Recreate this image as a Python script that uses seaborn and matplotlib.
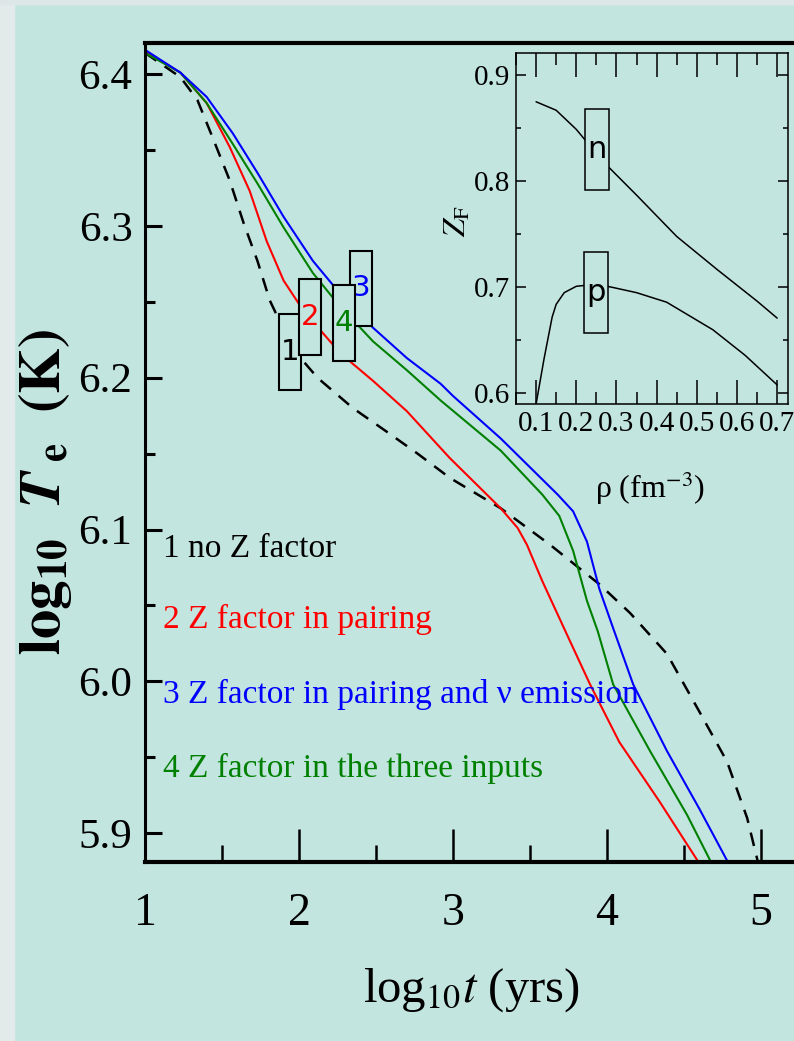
import numpy as np
import pandas as pd
import matplotlib
matplotlib.use("Agg")
import matplotlib.pyplot as plt
from matplotlib.patches import Rectangle
from matplotlib.ticker import MultipleLocator
import seaborn as sns

# ---------------- data ----------------
t_no_z = [1.0, 1.23, 1.34, 1.44, 1.55, 1.64, 1.73, 1.81, 1.88, 2.01, 2.12, 2.35, 2.59, 2.77,
          2.98, 3.31, 3.63, 3.95, 4.15, 4.39, 4.60, 4.78, 4.91, 4.98]
T_no_z = [6.414, 6.398, 6.383, 6.358, 6.330, 6.302, 6.277, 6.251, 6.236, 6.213, 6.200, 6.180,
          6.163, 6.150, 6.134, 6.114, 6.090, 6.064, 6.045, 6.018, 5.980, 5.947, 5.910, 5.881]

t_pair = [1.0, 1.23, 1.40, 1.55, 1.68, 1.79, 1.90, 2.03, 2.27, 2.48, 2.70, 2.98, 3.31, 3.42,
          3.48, 3.58, 3.73, 3.89, 4.08, 4.34, 4.60]
T_pair = [6.415, 6.401, 6.381, 6.352, 6.323, 6.290, 6.264, 6.244, 6.216, 6.198, 6.178, 6.147,
          6.114, 6.101, 6.090, 6.066, 6.033, 5.998, 5.960, 5.921, 5.880]

t_pair_nu = [1.0, 1.23, 1.40, 1.57, 1.73, 1.90, 2.09, 2.27, 2.48, 2.70, 2.92, 3.0, 3.31, 3.68,
             3.78, 3.87, 3.95, 4.04, 4.17, 4.39, 4.60, 4.79]
T_pair_nu = [6.416, 6.401, 6.385, 6.361, 6.335, 6.306, 6.277, 6.255, 6.233, 6.213, 6.196, 6.188,
             6.160, 6.123, 6.112, 6.092, 6.061, 6.035, 5.998, 5.954, 5.916, 5.880]

t_three = [1.0, 1.23, 1.40, 1.57, 1.73, 1.90, 2.09, 2.25, 2.48, 2.70, 2.92, 3.31, 3.58, 3.69,
           3.78, 3.87, 3.94, 4.04, 4.28, 4.52, 4.68]
T_three = [6.414, 6.401, 6.381, 6.354, 6.328, 6.299, 6.269, 6.249, 6.224, 6.205, 6.185, 6.152,
           6.123, 6.109, 6.086, 6.053, 6.033, 5.998, 5.954, 5.912, 5.880]

legend_labels = ["1 no Z factor", "2 Z factor in pairing",
                 "3 Z factor in pairing and \u03bd emission", "4 Z factor in the three inputs"]
curve_tags = ["1", "2", "3", "4"]
tag_t = [1.94, 2.07, 2.40, 2.29]
tag_T = [6.217, 6.240, 6.259, 6.236]

rho_n = [0.10, 0.15, 0.20, 0.222, 0.279, 0.35, 0.45, 0.55, 0.65, 0.70]
Z_n = [0.875, 0.867, 0.849, 0.839, 0.814, 0.787, 0.748, 0.717, 0.687, 0.671]
rho_p = [0.10, 0.12, 0.14, 0.15, 0.17, 0.20, 0.25, 0.29, 0.35, 0.425, 0.54, 0.62, 0.70]
Z_p = [0.590, 0.633, 0.672, 0.684, 0.695, 0.701, 0.703, 0.700, 0.695, 0.686, 0.660, 0.636, 0.608]
inset_tags = ["n", "p"]
inset_tag_rho = [0.251, 0.250]
inset_tag_Z = [0.830, 0.695]

x_ticks = [1, 2, 3, 4, 5]
y_ticks = [5.9, 6.0, 6.1, 6.2, 6.3, 6.4]
inset_x_ticks = [0.1, 0.2, 0.3, 0.4, 0.5, 0.6, 0.7]
inset_y_ticks = [0.6, 0.7, 0.8, 0.9]

# ---------------- style ----------------
BG = "#c3e5df"
RED, BLUE, GREEN = "#ff0000", "#0000ff", "#008000"
colors = ["black", RED, BLUE, GREEN]

sns.set_theme(style="ticks")
plt.rcParams["font.family"] = ["Liberation Serif", "DejaVu Serif"]
plt.rcParams["mathtext.fontset"] = "stix"
plt.rcParams["axes.unicode_minus"] = False

fig = plt.figure(figsize=(7.94, 10.41), dpi=100, facecolor=BG)
fig.patches.append(Rectangle((0, 0), 14 / 794, 1, transform=fig.transFigure,
                             color="#e2eaea", zorder=0))
fig.patches.append(Rectangle((0, 1 - 4 / 1041), 1, 4 / 1041, transform=fig.transFigure,
                             color="#dde7e7", zorder=0))

# ---------------- main axes ----------------
ax = fig.add_axes([145 / 794, 1 - 862 / 1041, 1 - 145 / 794, (862 - 43) / 1041])
ax.set_facecolor(BG)

df = pd.concat([
    pd.DataFrame({"t": t_no_z, "T": T_no_z, "case": "1"}),
    pd.DataFrame({"t": t_pair, "T": T_pair, "case": "2"}),
    pd.DataFrame({"t": t_pair_nu, "T": T_pair_nu, "case": "3"}),
    pd.DataFrame({"t": t_three, "T": T_three, "case": "4"}),
])
sns.lineplot(data=df[df.case == "1"], x="t", y="T", color="black", lw=1.8,
             linestyle=(0, (5.5, 4)), sort=False, estimator=None, ax=ax, legend=False)
for c, col in zip(["2", "4", "3"], [RED, GREEN, BLUE]):
    sns.lineplot(data=df[df.case == c], x="t", y="T", color=col, lw=1.5,
                 sort=False, estimator=None, ax=ax, legend=False)

ax.set_xlim(1, 1 + (794 - 145) / 154.0)
ax.set_ylim(5.881, 6.4205)
ax.set_xticks(x_ticks)
ax.set_yticks(y_ticks)
ax.set_xticklabels([str(v) for v in x_ticks])
ax.set_yticklabels([f"{v:.1f}" for v in y_ticks])
ax.xaxis.set_minor_locator(MultipleLocator(0.5))
ax.yaxis.set_minor_locator(MultipleLocator(0.05))
ax.tick_params(axis="x", which="major", direction="in", length=24, width=1.8,
               labelsize=33, pad=22, color="black", labelcolor="black")
ax.tick_params(axis="x", which="minor", direction="in", length=12, width=1.8, color="black")
ax.tick_params(axis="y", which="major", direction="in", length=12, width=2.2,
               labelsize=31, pad=9, color="black", labelcolor="black")
ax.tick_params(axis="y", which="minor", direction="in", length=7, width=2.2, color="black")
for side, lw in [("top", 3.0), ("left", 2.2), ("bottom", 3.0)]:
    ax.spines[side].set_linewidth(lw)
    ax.spines[side].set_color("black")
ax.spines["right"].set_visible(False)

ax.set_xlabel(r"log$_{10}$$\mathit{t}$ (yrs)", fontsize=35, color="black", va="center")
ax.xaxis.set_label_coords((471 - 145) / 649, (862 - 990) / 819)
ax.set_ylabel(r"$\mathbf{log}_{\mathbf{10}}\ \ \mathbfit{T}_{\ \mathbf{e}}\ \ \mathbf{(K)}$",
              fontsize=42, color="black", va="center")
ax.yaxis.set_label_coords((45 - 145) / 649, (862 - 492) / 819)

legend_y = [(862 - 557) / 819, (862 - 628) / 819, (862 - 703) / 819, (862 - 777) / 819]
for lab, col, yy in zip(legend_labels, colors, legend_y):
    ax.text(0.028, yy, lab, transform=ax.transAxes, fontsize=24, color=col,
            ha="left", va="baseline")

for tag, col, tx, ty in zip(curve_tags, colors, tag_t, tag_T):
    ax.text(tx, ty, "\n" + tag + "\n", color=col, fontsize=21, family="DejaVu Sans",
            ha="center", va="center", linespacing=0.72, zorder=5,
            bbox=dict(boxstyle="square,pad=0.06", fc=BG, ec="black", lw=1.5))

# ---------------- inset ----------------
ax2 = fig.add_axes([516 / 794, 1 - 404 / 1041, (788 - 516) / 794, (404 - 53) / 1041])
ax2.set_facecolor(BG)
dfi = pd.concat([
    pd.DataFrame({"rho": rho_n, "Z": Z_n, "nuc": "n"}),
    pd.DataFrame({"rho": rho_p, "Z": Z_p, "nuc": "p"}),
])
sns.lineplot(data=dfi, x="rho", y="Z", units="nuc", estimator=None, sort=False,
             color="black", lw=1.1, ax=ax2, legend=False)
ax2.set_xlim(0.05, 0.727)
ax2.set_ylim(0.59, 0.921)
ax2.set_xticks(inset_x_ticks)
ax2.set_yticks(inset_y_ticks)
ax2.set_xticklabels([f"{v:.1f}" for v in inset_x_ticks])
ax2.set_yticklabels([f"{v:.1f}" for v in inset_y_ticks])
ax2.xaxis.set_minor_locator(MultipleLocator(0.05))
ax2.yaxis.set_minor_locator(MultipleLocator(0.05))
ax2.tick_params(axis="both", which="both", direction="in", top=True, right=True,
                color="black", labelcolor="black")
ax2.tick_params(axis="x", which="major", length=17, width=1.1, labelsize=21, pad=5)
ax2.tick_params(axis="x", which="minor", length=8.5, width=1.1)
ax2.tick_params(axis="y", which="major", length=7, width=1.1, labelsize=21, pad=4)
ax2.tick_params(axis="y", which="minor", length=3.5, width=1.1)
for s in ax2.spines.values():
    s.set_linewidth(1.1)
    s.set_color("black")
ax2.set_xlabel("\u03c1 (fm$^{-3}$)", fontsize=23, color="black", va="center")
ax2.xaxis.set_label_coords((650 - 516) / 272, (404 - 488) / 351)
ax2.set_ylabel(r"$Z_{\rm F}$", fontsize=23, color="black", va="center")
ax2.yaxis.set_label_coords((458 - 516) / 272, (404 - 221) / 351)

for tag, rx, zy in zip(inset_tags, inset_tag_rho, inset_tag_Z):
    ax2.text(rx, zy, "\n" + tag + "\n", color="black", fontsize=22, family="DejaVu Sans",
             ha="center", va="center", linespacing=0.75, zorder=5,
             bbox=dict(boxstyle="square,pad=0.08", fc=BG, ec="black", lw=1.1))

fig.savefig("out.png", dpi=100, facecolor=BG)
